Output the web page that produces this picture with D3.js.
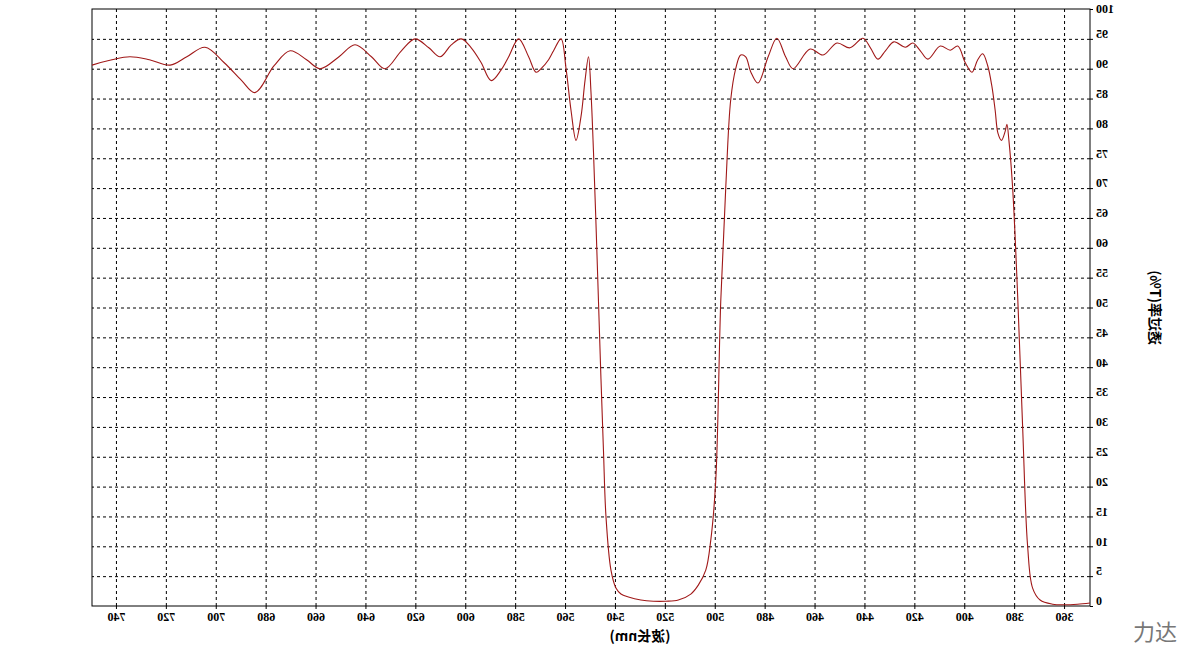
<!DOCTYPE html><html><head><meta charset="utf-8"><script src="https://cdn.jsdelivr.net/npm/d3@7"></script>
<style>body{margin:0;background:#fff}</style></head><body><script>
const wavelengths=[350,355,360,365,370,373,375,377,379,381,382.5,383.3,384,385.5,386.9,388,389.3,391,393,395,397.3,400,403,406,410,415,418,421,424,428.6,432,435,438,441,446.2,451.4,457,462.2,469,472,475.5,479,483.1,486,488,490,492,494,496,498,500,502,504,507,510,515,520,525,530,535,538,540,542,544,545,546,547,548,549,550,551,552.4,554,556,558,560,562,565,567,570,572,575,579,583,586,590,594,598,602,606,610.5,615,620.5,626,632.6,638,644.6,651,658.6,664,670.6,677,684.7,690,697,704.7,712,718.7,727,734.8,742,750];
const transmittance=[0.5,0.3,0.2,0.3,1,3,10,30,52,70,78,80.7,79.5,78,79.2,83,87,90.5,92.5,91.5,89.4,91,93.8,93.1,93.8,91.6,93,94.3,93.6,94.5,93,91.6,93.5,95.1,93.5,94.3,92.3,93.3,90,92,95.1,92,87.6,89.5,92,92.3,90,84.8,70,51,21,11,6,3.5,2,1,0.8,0.8,1,1.5,2,3,6,15,26,38,51,64,76,86,92,88,82,78,83,90,95,93,91.5,90,89.4,92,95,92,89.8,88,91,93.5,95,94,92,93.5,95,93,90,92,94,92,90,91.5,93,90.5,86,88,91,93.6,92,90.6,91.5,92,91.5,90.6];
const yTicks=d3.range(0,101,5);
const xTicks=d3.range(360,741,20);
const W=1191,H=652,L=101,R=1099,T=9,B=606;
const svg=d3.select("body").append("svg").attr("width",W).attr("height",H);
const g=svg.append("g").attr("transform",`translate(${W},0) scale(-1,1)`);
const x=d3.scaleLinear().domain([350,750]).range([L,R]);
const y=d3.scaleLinear().domain([0,100]).range([B,T]);
const grid=g.append("g").attr("stroke","#000").attr("stroke-dasharray","3,3").attr("stroke-width",1);
yTicks.forEach(t=>{if(t>0&&t<100)grid.append("line").attr("x1",L).attr("x2",R).attr("y1",y(t)+.5).attr("y2",y(t)+.5);});
xTicks.forEach(t=>grid.append("line").attr("x1",x(t)+.5).attr("x2",x(t)+.5).attr("y1",T).attr("y2",B));
g.append("rect").attr("x",L).attr("y",T).attr("width",R-L).attr("height",B-T).attr("fill","none").attr("stroke","#000");
const font="Liberation Serif";
g.append("g").attr("transform",`translate(${L},0)`).call(d3.axisLeft(y).tickValues(yTicks).tickSize(3).tickFormat(d3.format("d")))
 .call(a=>{a.select(".domain").remove();a.selectAll("text").attr("font-family",font).attr("font-size",12).attr("dy",d=>d===100?"0.25em":"-0.1em").attr("font-weight","bold");});
g.append("g").attr("transform",`translate(0,${B})`).call(d3.axisBottom(x).tickValues(xTicks).tickSize(3).tickFormat(d3.format("d")))
 .call(a=>{a.select(".domain").remove();a.selectAll("text").attr("font-family",font).attr("font-size",12).attr("font-weight","bold");});
g.append("path").datum(wavelengths.map((w,i)=>[w,transmittance[i]]))
 .attr("fill","none").attr("stroke","#a01818").attr("stroke-width",1.1)
 .attr("d",d3.line().x(d=>x(d[0])).y(d=>y(d[1])).curve(d3.curveCatmullRom.alpha(0.5)));
g.append("text").attr("transform",`translate(41,${(T+B)/2}) rotate(-90)`).attr("text-anchor","middle")
 .attr("font-family","Noto Sans CJK SC").attr("font-size",14).attr("font-weight","bold").text("透过率(T%)");
g.append("text").attr("x",551).attr("y",641).attr("text-anchor","middle")
 .attr("font-family","Noto Sans CJK SC").attr("font-size",14).attr("font-weight","bold").text("(波长nm)");
svg.append("text").attr("x",1155).attr("y",640).attr("text-anchor","middle").attr("fill","#777")
 .attr("font-family","Noto Sans CJK SC").attr("font-size",22).text("力达");
</script></body></html>
